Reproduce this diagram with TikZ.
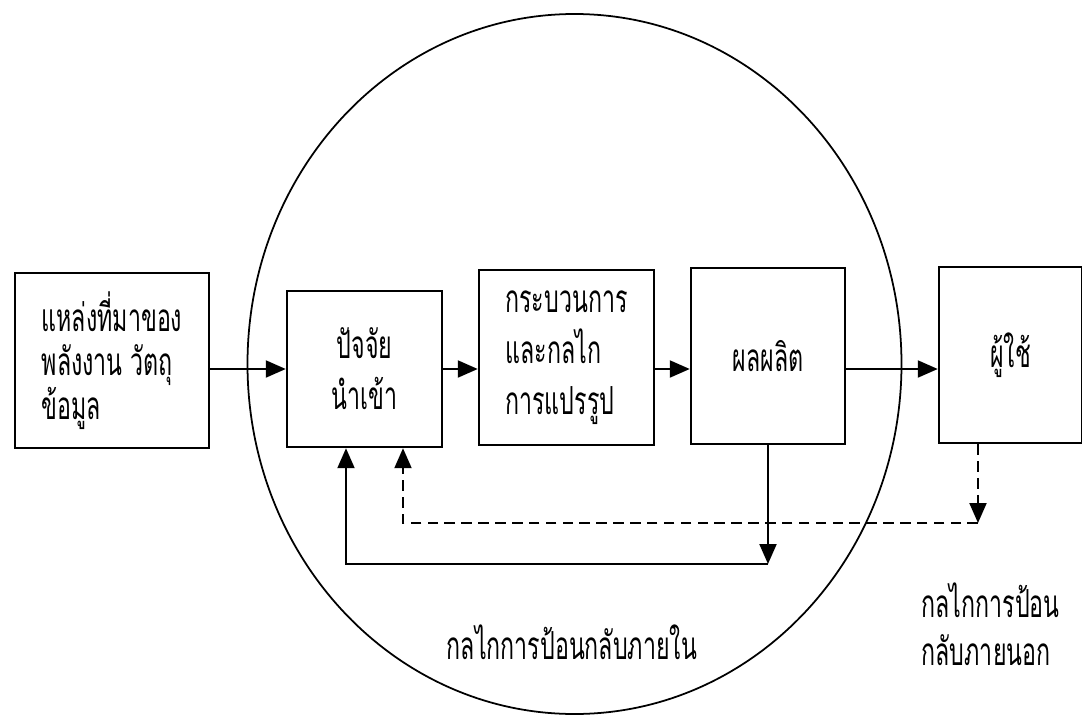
\documentclass[tikz,border=0pt]{standalone}
\usepackage{fontspec}
\usepackage{tikz}
\usetikzlibrary{arrows.meta, positioning, calc}
\newfontfamily\thaifont[Script=Thai,FakeStretch=0.6]{Loma}

\begin{document}
\begin{tikzpicture}[
                    box/.style={draw,line width=0.7pt,inner sep=0pt,
                    font=\thaifont\fontsize{11}{12.5}\selectfont},
                    lbl/.style={inner sep=0pt,font=\thaifont\fontsize{11}{13.6}\selectfont},
                    arr/.style={-{Triangle[length=0.2cm,width=0.17cm]},line width=0.6pt}
]
\useasboundingbox (0,0) rectangle (10.82,7.15);
\draw[line width=0.5pt] (5.745,3.51) ellipse (3.27 and 3.5);
\node[box,minimum width=1.94cm,minimum height=1.75cm,align=left] (src) at (1.12,3.545) {แหล่งที่มาของ\\พลังงาน วัตถุ\\ข้อมูล};
\node[box,minimum width=1.55cm,minimum height=1.56cm,align=center,
      font=\thaifont\fontsize{11}{14.5}\selectfont] (inp) at (3.645,3.46) {ปัจจัย\\นำเข้า};
\node[box,minimum width=1.75cm,minimum height=1.75cm,align=left,
      font=\thaifont\fontsize{11}{14.5}\selectfont] (proc) at (5.665,3.575) {กระบวนการ\\และกลไก\\การแปรรูป};
\node[box,minimum width=1.54cm,minimum height=1.76cm] (outp) at (7.68,3.59) {ผลผลิต};
\node[box,minimum width=1.43cm,minimum height=1.76cm] (user) at (10.105,3.60) {ผู้ใช้};
\draw[arr] (src.east |- inp) -- (inp);
\draw[arr] (inp) -- (proc.west |- inp);
\draw[arr] (proc.east |- inp) -- (outp.west |- inp);
\draw[arr] (outp.east |- inp) -- (user.west |- inp);
% feedback loops
\coordinate (infb) at (7.68,1.51);
\coordinate (exfb) at (9.78,1.92);
\draw[arr] (outp.south) -- (infb);
\draw[arr] (infb) -| ([xshift=-0.185cm]inp.south);
\draw[arr,dash pattern=on 3pt off 1.8pt] ([xshift=-0.325cm]user.south) -- (exfb);
\draw[arr,dash pattern=on 3pt off 1.8pt] (exfb) -| ([xshift=0.385cm]inp.south);
\node[lbl] (inner) at (5.72,0.73) {กลไกการป้อนกลับภายใน};
\node[lbl,align=left,anchor=west] (outer) at (9.21,0.91) {กลไกการป้อน\\กลับภายนอก};
\end{tikzpicture}
\end{document}
